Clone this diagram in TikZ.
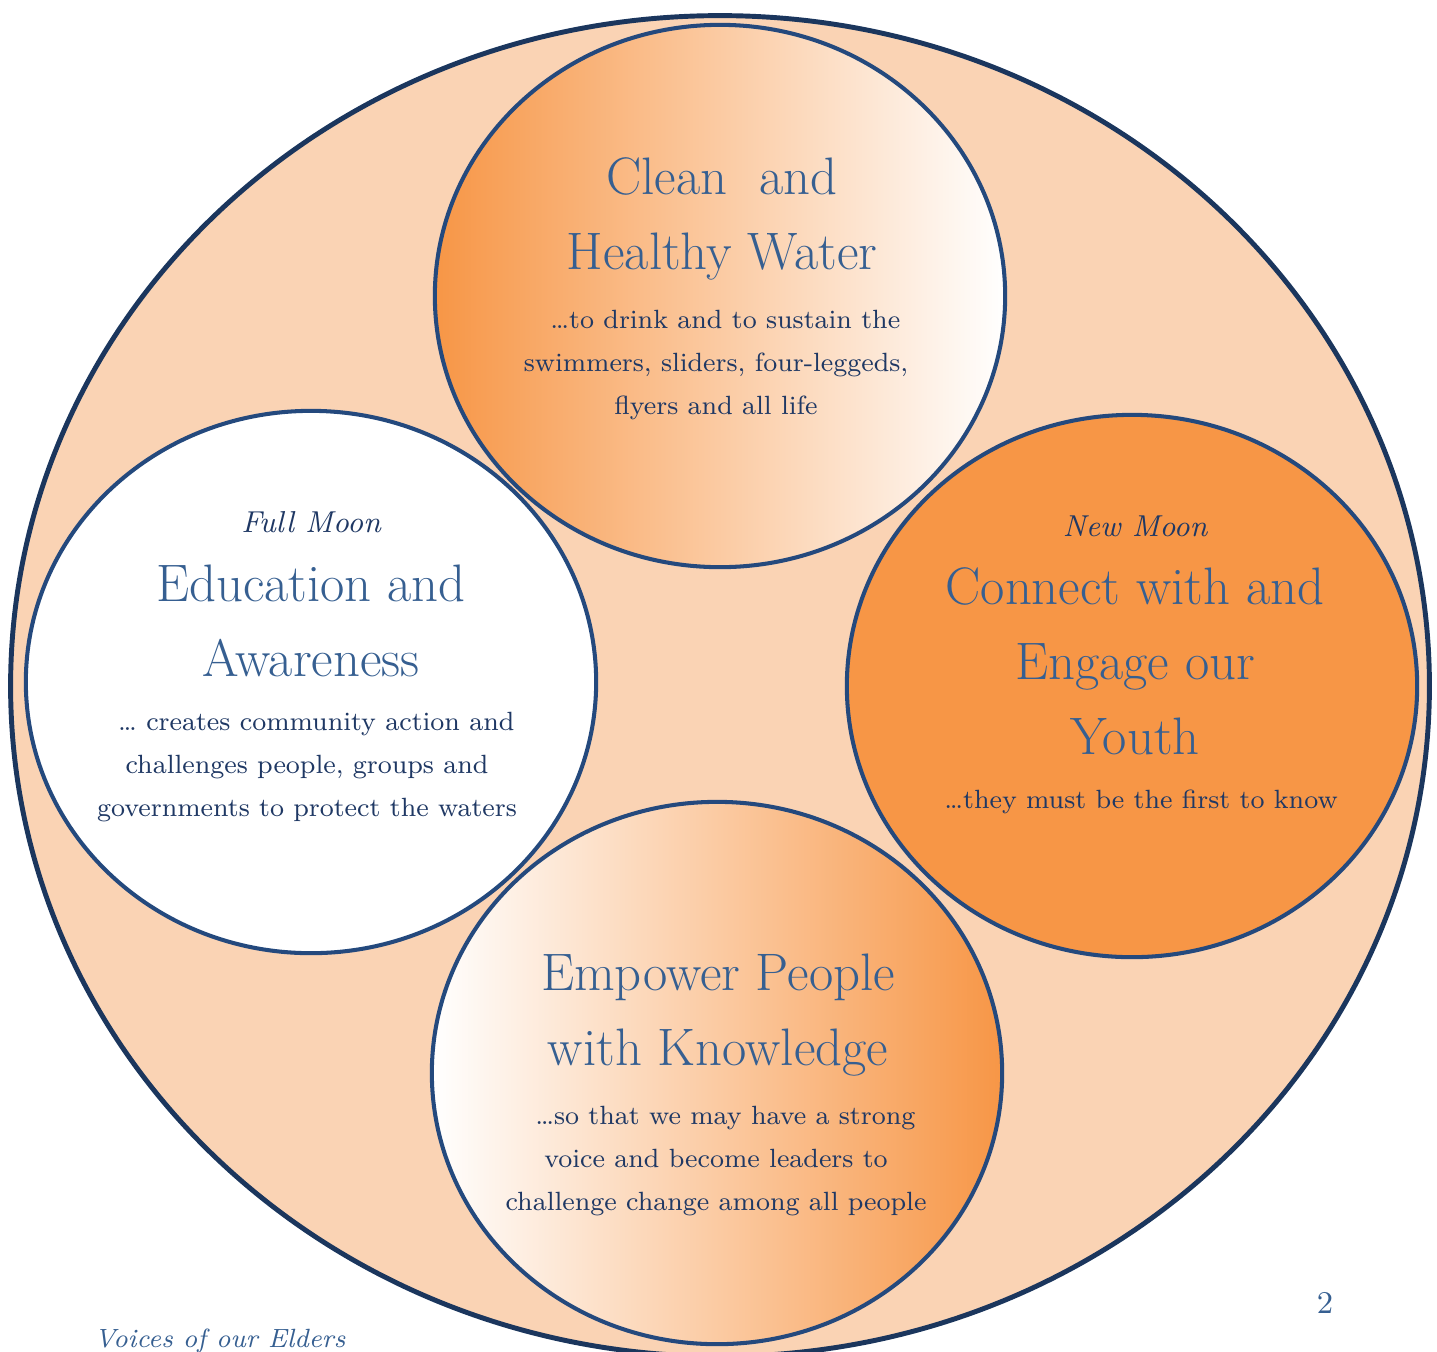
\documentclass[tikz,border=0pt]{standalone}
\usepackage{tikz}
\usetikzlibrary{shapes.geometric,positioning}

\definecolor{peach}{HTML}{FAD3B4}
\definecolor{moonorange}{HTML}{F79646}
\definecolor{rimnavy}{HTML}{1B365D}
\definecolor{ringblue}{HTML}{24497D}
\definecolor{titleblue}{HTML}{365F91}
\definecolor{textnavy}{HTML}{1F3864}

\newcommand{\titlesize}{\fontsize{15}{21.3}\selectfont}
\newcommand{\bodysize}{\fontsize{7.5}{12.2}\selectfont}
\newcommand{\moonsize}{\fontsize{8.6}{11}\selectfont\itshape}

\tikzset{
  moon/.style={ellipse, draw=ringblue, line width=1.15pt, minimum width=5.70cm, minimum height=5.42cm, inner sep=0pt},
  heading/.style={align=center, text=titleblue, font=\titlesize},
  blurb/.style={align=center, text=textnavy, font=\bodysize},
  phase/.style={text=textnavy, font=\moonsize}
}

\begin{document}
\begin{tikzpicture}[x=0.01cm, y=-0.01cm]
	\useasboundingbox (0,0) rectangle (1437,1351);
	\clip (0,0) rectangle (1437,1351);
	
	\node[ellipse, draw=rimnavy, fill=peach, line width=1.4pt, minimum width=14.18cm, minimum height=13.40cm, inner sep=0pt] (Cercle) at (720,686) {};
	
	\node[moon, left color=moonorange, right color=white] (Eau) at (720,296) {};
	\node[moon, fill=white] (Education) at (311,682) {};
	\node[moon, fill=moonorange] (Jeunesse) at (1132,686) {};
	\node[moon, left color=white, right color=moonorange] (Savoir) at (717,1073) {};
	
	\node[heading] (EauTitre) at (722,219) {Clean\ \ and \\ Healthy Water};
	\node[blurb] (EauTexte) at (716,365) {\ \ \ldots to drink and to sustain the \\ swimmers, sliders, four-leggeds, \\ flyers and all life};
	
	\node[phase] (PleineLune) at (311,522) {Full Moon};
	\node[heading] (EducationTitre) at (311,621) {Education and \\ Awareness};
	\node[blurb] (EducationTexte) at (307,767) {\ \ \ldots\ creates community action and \\ challenges people, groups and \\ governments to protect the waters};
	
	\node[phase] (NouvelleLune) at (1135,526) {New Moon};
	\node[heading] (JeunesseTitre) at (1135,661) {Connect with and \\ Engage our \\ Youth};
	\node[blurb] (JeunesseTexte) at (1141,802) {\ldots they must be the first to know};
	
	\node[heading] (SavoirTitre) at (718,1015) {Empower People \\ with Knowledge};
	\node[blurb] (SavoirTexte) at (716,1161) {\ \ \ldots so that we may have a strong \\ voice and become leaders to \\ challenge change among all people};
	
	\node[text=titleblue, font=\fontsize{9}{11}\selectfont] (Page) at (1325,1303) {2};
	\node[text=titleblue, font=\fontsize{7.5}{10}\selectfont\itshape] (Voix) at (220,1341) {Voices of our Elders};
\end{tikzpicture}
\end{document}
